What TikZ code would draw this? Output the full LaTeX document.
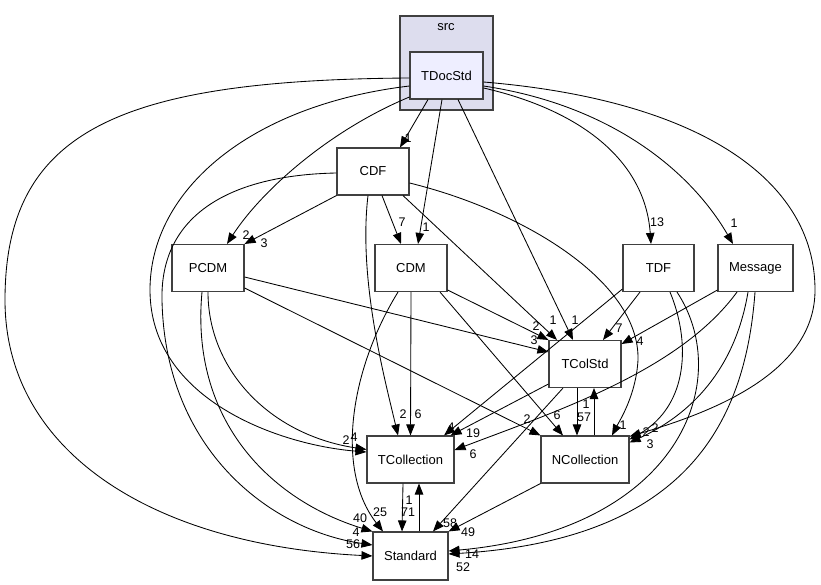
\documentclass[tikz,border=0pt]{standalone}
\usepackage{fontspec}
\setmainfont{Liberation Sans}
\usetikzlibrary{arrows.meta}
\definecolor{clusterfill}{HTML}{DDDDEE}
\definecolor{mainfill}{HTML}{EEEEFF}
\definecolor{boxline}{HTML}{404040}

\begin{document}
\begin{tikzpicture}[x=1pt,y=-1pt,
    every node/.style={font=\fontsize{13}{15}\selectfont},
    dirbox/.style={draw=boxline,line width=1.1pt,fill=white,minimum height=47pt,inner sep=0pt},
    dep/.style={-{Triangle[length=11pt,width=8.5pt]},line width=.85pt},
    num/.style={inner sep=0pt,font=\fontsize{12.5}{13}\selectfont}]
    \useasboundingbox[fill=white] (0,0) rectangle (821,585);
    \draw[draw=boxline,line width=1.1pt,fill=clusterfill] (400,16) rectangle (493,110);
    \node (src) at (446,27) {src};

    \node[dirbox,fill=mainfill,minimum width=73pt] (TDocStd) at (446.5,75.5) {TDocStd};
    \node[dirbox,minimum width=72pt] (CDF) at (373,171.5) {CDF};
    \node[dirbox,minimum width=72pt] (PCDM) at (208,268) {PCDM};
    \node[dirbox,minimum width=72pt] (CDM) at (411,268) {CDM};
    \node[dirbox,minimum width=71pt] (TDF) at (658.5,268) {TDF};
    \node[dirbox,minimum width=75pt] (Message) at (755.5,268) {Message};
    \node[dirbox,minimum width=72pt] (TColStd) at (585,364) {TColStd};
    \node[dirbox,minimum width=87pt] (TCollection) at (410.5,459.5) {TCollection};
    \node[dirbox,minimum width=88pt] (NCollection) at (585,459.5) {NCollection};
    \node[dirbox,minimum width=75pt,minimum height=48pt] (Standard) at (410.5,556) {Standard};

    \draw[dep] ([xshift=-18.5pt]TDocStd.south) -- ([xshift=27pt]CDF.north) node[num] (l1) at (408,138) {1};
    \draw[dep] ([xshift=-4.5pt]TDocStd.south) -- ([xshift=7pt]CDM.north) node[num] (l2) at (426,227) {1};
    \draw[dep] ([xshift=11.5pt]TDocStd.south) -- ([xshift=-12pt]TColStd.north) node[num] (l3) at (575,320) {1};
    \draw[dep] ([yshift=-21.5pt]TDocStd.west) .. controls (330,130) and (262,190) .. ([xshift=19pt]PCDM.north) node[num] (l4) at (246,235) {2};
    \draw[dep] ([yshift=-10.5pt]TDocStd.west) .. controls (250,105) and (150,190) .. (150,290)
        .. controls (150,400) and (280,445) .. ([yshift=7.5pt]TCollection.west) node[num] (l5) at (346,440) {2};
    \draw[dep] ([yshift=-2.5pt]TDocStd.west) .. controls (120,80) and (5,130) .. (5,300)
        .. controls (5,450) and (150,545) .. (Standard.west) node[num] (l6) at (353,544) {56};
    \draw[dep] ([yshift=-12.5pt]TDocStd.east) .. controls (580,110) and (645,160) .. ([xshift=-7.5pt]TDF.north) node[num] (l7) at (657,222) {13};
    \draw[dep] ([yshift=-10.5pt]TDocStd.east) .. controls (610,105) and (690,170) .. ([xshift=-22.5pt]Message.north) node[num] (l8) at (734,223) {1};
    \draw[dep] ([yshift=-6.5pt]TDocStd.east) .. controls (700,100) and (815,180) .. (815,290)
        .. controls (815,370) and (720,410) .. ([yshift=-1pt]NCollection.north east) node[num] (l9) at (655,428) {2};

    \draw[dep] (CDF.south west) -- (PCDM.north east) node[num] (l10) at (264,243) {3};
    \draw[dep] ([xshift=9pt]CDF.south) -- ([xshift=-10pt]CDM.north) node[num] (l11) at (402,222) {7};
    \draw[dep] ([xshift=-5pt]CDF.south) .. controls (358,280) and (385,380) .. ([xshift=-12.5pt]TCollection.north) node[num] (l12) at (403,414) {2};
    \draw[dep] ([xshift=30pt]CDF.south) -- ([xshift=-28pt]TColStd.north) node[num] (l13) at (553,320) {1};
    \draw[dep] ([yshift=-11.5pt]CDF.east) .. controls (520,210) and (640,280) .. (638,360)
        .. controls (636,395) and (620,420) .. ([xshift=27pt]NCollection.north) node[num] (l14) at (623,425) {1};
    \draw[dep] ([yshift=-1.5pt]CDF.west) .. controls (230,175) and (160,215) .. (162,300)
        .. controls (165,450) and (270,530) .. ([yshift=11pt]Standard.west) node[num] (l15) at (356,532) {4};

    \draw[dep] ([yshift=-9pt]PCDM.east) -- ([yshift=12pt]TColStd.west) node[num] (l16) at (534,340) {3};
    \draw[dep] ([yshift=-20pt]PCDM.east) -- (NCollection.north west) node[num] (l17) at (527,419) {2};
    \draw[dep] (PCDM.south) .. controls (208,370) and (270,435) .. ([yshift=10pt]TCollection.west) node[num] (l18) at (354,437) {4};
    \draw[dep] ([xshift=-6pt]PCDM.south) .. controls (190,420) and (270,500) .. (Standard.north west) node[num] (l19) at (360,518) {40};

    \draw[dep] (CDM.south) -- (TCollection.north) node[num] (l20) at (418,414) {6};
    \draw[dep] ([xshift=-13pt]CDM.south) .. controls (350,370) and (335,470) .. ([xshift=-27.5pt]Standard.north) node[num] (l21) at (380,512) {25};
    \draw[dep] ([yshift=-22pt]CDM.east) -- (TColStd.north west) node[num] (l22) at (536,326) {2};
    \draw[dep] ([xshift=29pt]CDM.south) -- ([xshift=-22pt]NCollection.north) node[num] (l23) at (557,415) {6};

    \draw[dep] ([xshift=-18.5pt]TDF.south) -- ([xshift=18pt]TColStd.north) node[num] (l24) at (619,328) {7};
    \draw[dep] ([yshift=-21pt]TDF.west) -- ([xshift=33.5pt]TCollection.north) node[num] (l25) at (451,427) {4};
    \draw[dep] ([xshift=11.5pt]TDF.south) .. controls (690,340) and (690,405) .. ([yshift=20pt]NCollection.east) node[num] (l26) at (646,432) {2};
    \draw[dep] ([xshift=18.5pt]TDF.south) .. controls (735,380) and (680,530) .. ([yshift=5pt]Standard.east) node[num] (l27) at (472,554) {14};

    \draw[dep] ([yshift=-22pt]Message.west) -- ([yshift=20pt]TColStd.east) node[num] (l28) at (640,341) {4};
    \draw[dep] ([xshift=-18.5pt]Message.south) .. controls (680,370) and (560,410) .. ([yshift=9.5pt]TCollection.east) node[num] (l29) at (473,454) {6};
    \draw[dep] ([xshift=-7.5pt]Message.south) .. controls (735,370) and (690,415) .. ([yshift=17pt]NCollection.east) node[num] (l30) at (650,444) {3};
    \draw[dep] ([xshift=-0.5pt]Message.south) .. controls (745,430) and (680,540) .. ([yshift=2pt]Standard.east) node[num] (l31) at (463,567) {52};

    \draw[dep] ([yshift=-20pt]TColStd.west) -- ([xshift=-4pt]TCollection.north east) node[num] (l32) at (473,433) {19};
    \draw[dep] ([xshift=-8pt]TColStd.south) -- ([xshift=-8pt]NCollection.north) node[num] (l33) at (584,417) {57};
    \draw[dep] ([xshift=9pt]NCollection.north) -- ([xshift=9pt]TColStd.south) node[num] (l34) at (586,404) {1};
    \draw[dep] ([xshift=-22pt]TColStd.south) -- ([xshift=22.5pt]Standard.north) node[num] (l35) at (450,523) {58};
    \draw[dep] (NCollection.south west) -- (Standard.north east) node[num] (l36) at (468,532) {49};

    \draw[dep] ([xshift=-7.5pt]TCollection.south) -- ([xshift=-8.5pt]Standard.north) node[num] (l37) at (408,512) {71};
    \draw[dep] ([xshift=8.5pt]Standard.north) -- ([xshift=8.5pt]TCollection.south) node[num] (l38) at (409,500) {1};
\end{tikzpicture}
\end{document}
